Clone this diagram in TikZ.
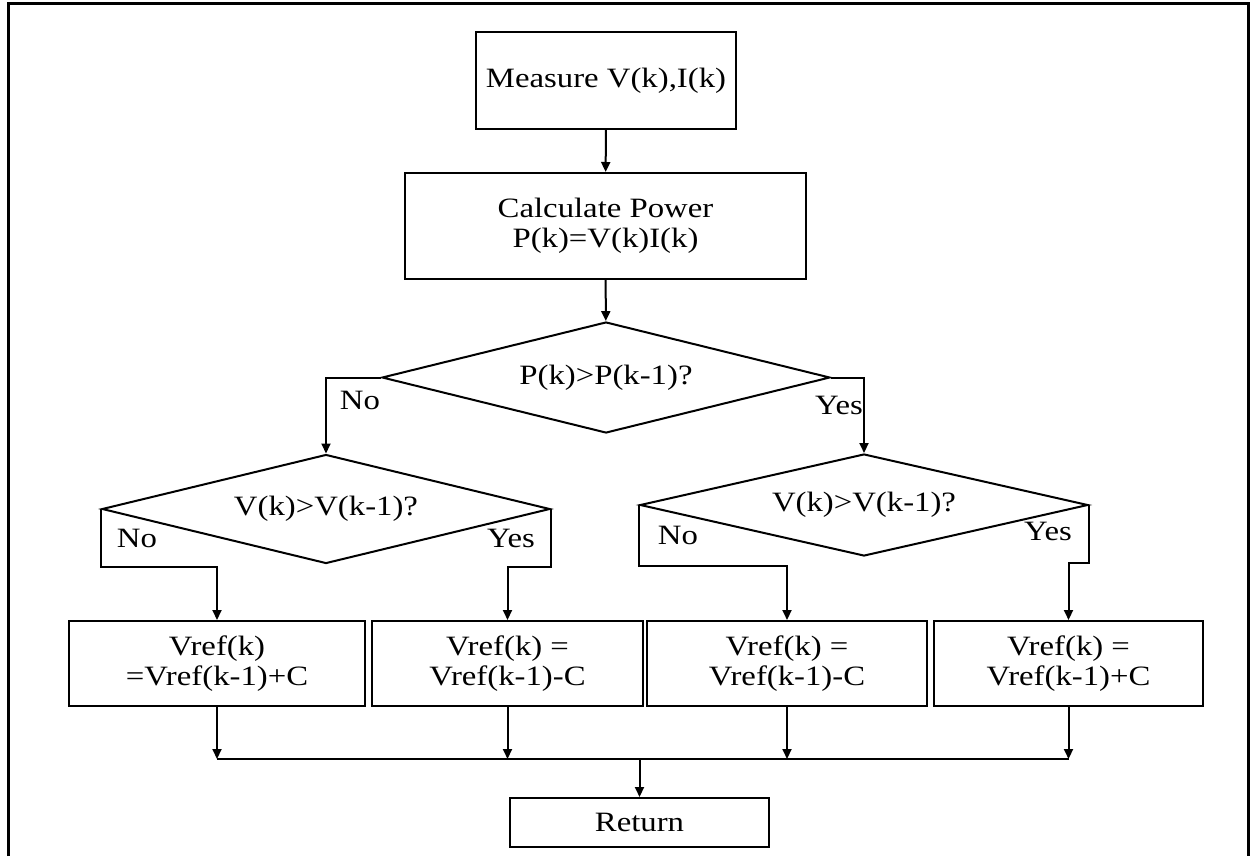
\documentclass[tikz,border=0pt]{standalone}
\usepackage{fontspec}
\setmainfont{Liberation Serif}[FakeStretch=1.17]
\usetikzlibrary{positioning,shapes.geometric,arrows.meta}

\begin{document}
\begin{tikzpicture}[x=0.5pt,y=-0.5pt,line width=1pt,
		every node/.style={font=\fontsize{14}{15}\selectfont},
		blk/.style={draw,rectangle,align=center,inner sep=0pt},
		dec/.style={draw,diamond,aspect=4,inner sep=0pt,minimum width=224pt},
		arr/.style={-{Triangle[length=5pt,width=4.5pt]}}]
		\useasboundingbox (0,0) rectangle (1251,856);
		\draw[line width=1.5pt] (8,856) -- (8,4) -- (1248,4) -- (1248,856);
		\coordinate (bus) at (0,759);
		
		\node[blk,minimum width=130pt,minimum height=48.5pt] (M) at (606,80.5) {Measure V(k),I(k)};
		\node[blk,minimum width=200.5pt,minimum height=53pt] (P) at (605.5,226) {Calculate Power\\P(k)=V(k)I(k)};
		\node[dec,minimum height=55.5pt] (D) at (606,377.5) {P(k)>P(k-1)?};
		\node[dec,minimum height=54.5pt] (DL) at (326,509) {V(k)>V(k-1)?};
		\node[dec,minimum height=51pt] (DR) at (864,505) {V(k)>V(k-1)?};
		
		\node[blk,minimum width=148pt,minimum height=42.5pt] (A) at (217,663.5) {Vref(k)\\=Vref(k-1)+C};
		\node[blk,minimum width=135.5pt,minimum height=42.5pt] (B) at (507.5,663.5) {Vref(k) =\\Vref(k-1)-C};
		\node[blk,minimum width=140pt,minimum height=42.5pt] (C) at (787,663.5) {Vref(k) =\\Vref(k-1)-C};
		\node[blk,minimum width=134.5pt,minimum height=42.5pt] (E) at (1068.5,663.5) {Vref(k) =\\Vref(k-1)+C};
		\node[blk,minimum width=129.5pt,minimum height=24.5pt] (R) at (639.5,822.5) {Return};
		
		\node (no) at (360,400) {No};
		\node (yes) at (839,405) {Yes};
		\node (noL) at (137,538) {No};
		\node (yesL) at (511,538) {Yes};
		\node (noR) at (678,535) {No};
		\node (yesR) at (1048,531) {Yes};
		
		\draw[arr] (M) -- (P);
		\draw[arr] (P) -- (D);
		\draw[arr] (D.west) -| (DL.north);
		\draw[arr] (D.east) -| (DR.north);
		\draw[arr] (DL.west) -- ++(0,58) -| (A.north);
		\draw[arr] (DL.east) -- ++(0,58) -| (B.north);
		\draw[arr] (DR.west) -- ++(0,61) -| (C.north);
		\draw[arr] (DR.east) -- ++(0,58) -| (E.north);
		
		\draw[arr] (A) -- (A |- bus);
		\draw[arr] (B) -- (B |- bus);
		\draw[arr] (C) -- (C |- bus);
		\draw[arr] (E) -- (E |- bus);
		\draw (A |- bus) -- (E |- bus);
		\draw[arr] (R |- bus) -- (R);
	\end{tikzpicture}
\end{document}
